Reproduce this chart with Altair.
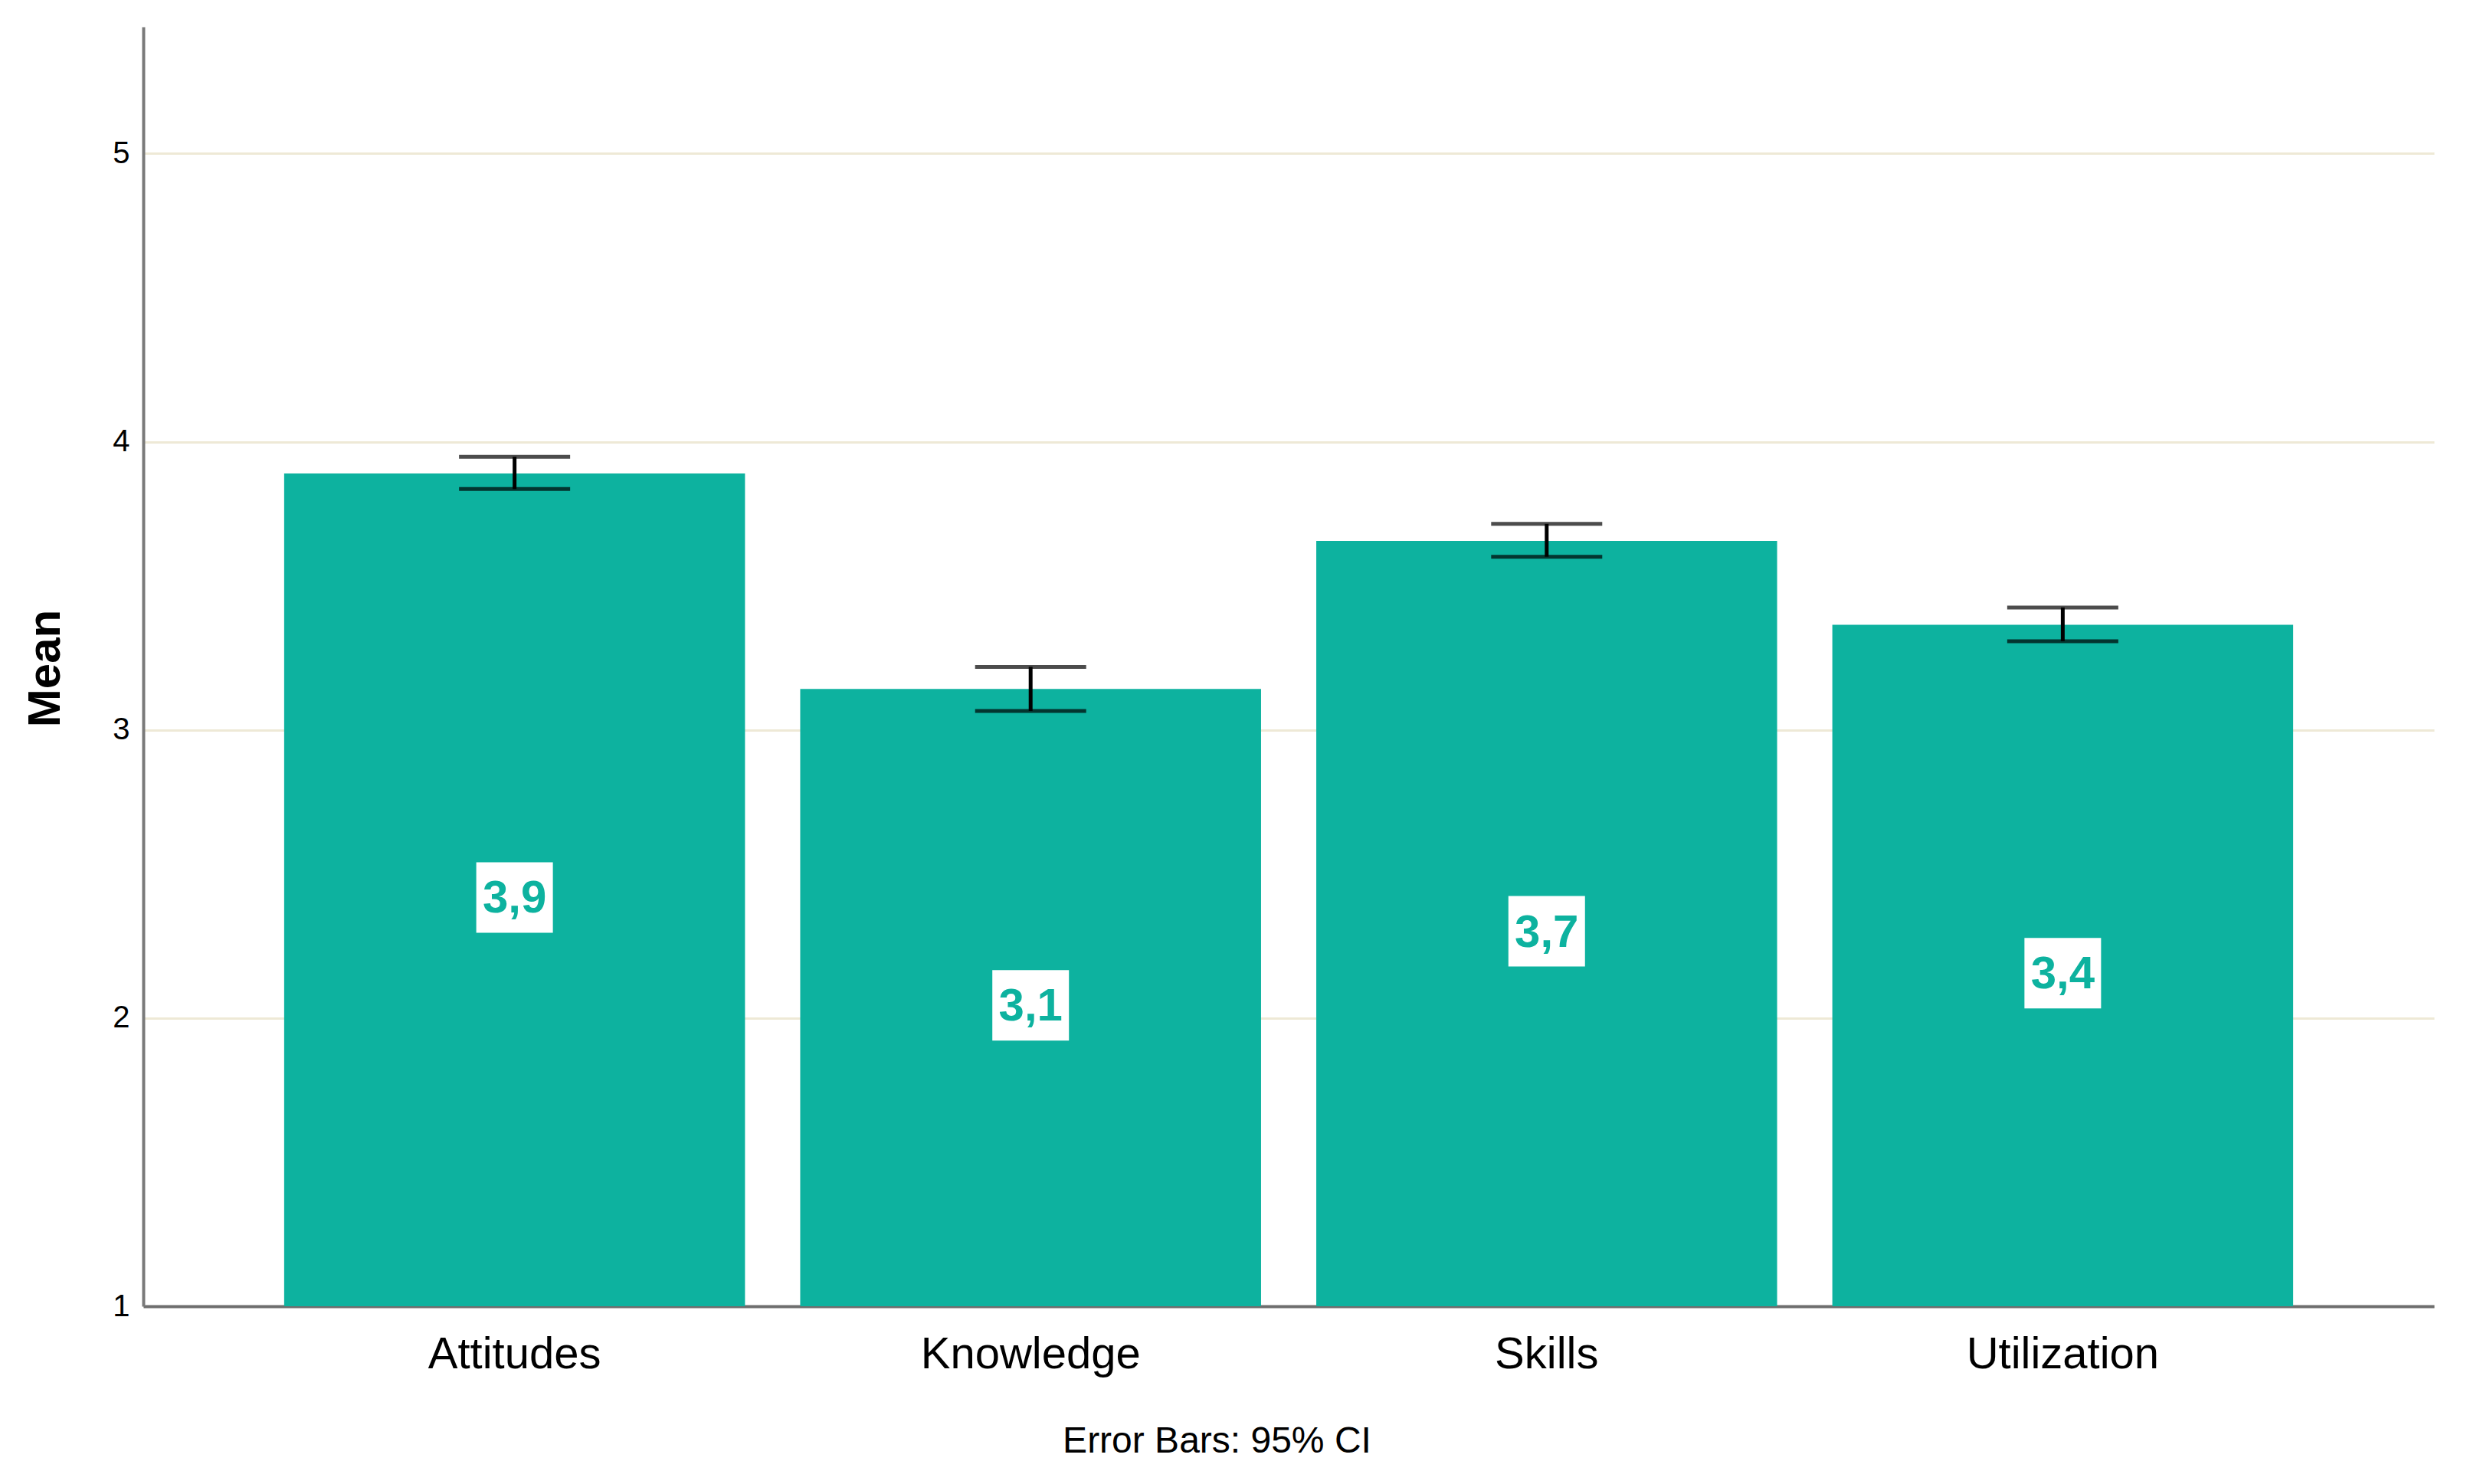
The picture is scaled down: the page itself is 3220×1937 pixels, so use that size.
import altair as alt
import pandas as pd

categories = ["Attitudes", "Knowledge", "Skills", "Utilization"]
means = [3.890, 3.142, 3.656, 3.365]
ci_low = [3.836, 3.066, 3.601, 3.308]
ci_high = [3.948, 3.219, 3.715, 3.425]
y_ticks = [1, 2, 3, 4, 5]

df = pd.DataFrame({"cat": categories, "mean": means, "lo": ci_low, "hi": ci_high})

TEAL = "#0DB29F"
FONT = "Liberation Sans"

x_enc = alt.X(
    "cat:N",
    sort=categories,
    scale=alt.Scale(paddingInner=0.107, paddingOuter=0.273),
    axis=alt.Axis(
        title="Error Bars: 95% CI",
        titleFont=FONT, titleFontSize=48, titleFontWeight="normal", titleColor="#000",
        titleX=1401, titleY=190, titleAlign="center", titleBaseline="alphabetic",
        labelFont=FONT, labelFontSize=58, labelColor="#000", labelAngle=0,
        labelPadding=80, labelBaseline="alphabetic", labelLimit=0,
        ticks=False, domainColor="#6E6E6E", domainWidth=4,
    ),
)

y_scale = alt.Scale(domain=[1, 5.44], zero=False, nice=False)

base = alt.Chart(df)

bars = base.mark_bar(color=TEAL).encode(
    x=x_enc,
    y=alt.Y(
        "mean:Q",
        scale=y_scale,
        axis=alt.Axis(
            title="Mean", values=y_ticks, format="d",
            titleFont=FONT, titleFontSize=60, titleFontWeight="bold", titleColor="#000",
            titleX=-128, titleY=837, titleAngle=270, titleAlign="center", titleBaseline="middle",
            labelFont=FONT, labelFontSize=40, labelColor="#000", labelPadding=18,
            ticks=False, domainColor="#7A7A7A", domainWidth=4,
            grid=True, gridColor="#EEE9D6", gridWidth=3,
        ),
    ),
    y2=alt.datum(1),
)

err = base.mark_rule(color="#000", strokeWidth=5).encode(
    x=alt.X("cat:N", sort=categories), y=alt.Y("lo:Q", scale=y_scale), y2="hi:Q"
)
cap_lo = base.mark_tick(color="#000", size=145, thickness=5).encode(
    x=alt.X("cat:N", sort=categories), y=alt.Y("lo:Q", scale=y_scale)
)
cap_hi = base.mark_tick(color="#000", size=145, thickness=5).encode(
    x=alt.X("cat:N", sort=categories), y=alt.Y("hi:Q", scale=y_scale)
)

lab_base = base.transform_calculate(
    mid="(1 + datum.mean) / 2",
    label="replace(format(datum.mean, '.1f'), '.', ',')",
)

box = lab_base.mark_point(
    shape="M-1,-0.92L1,-0.92L1,0.92L-1,0.92Z",
    size=10000, filled=True, color="white", opacity=1, strokeWidth=0, yOffset=10,
).encode(x=alt.X("cat:N", sort=categories), y=alt.Y("mid:Q", scale=y_scale))

txt = lab_base.mark_text(
    font=FONT, fontSize=60, fontWeight="bold", color=TEAL, baseline="middle", align="center", dy=12,
).encode(x=alt.X("cat:N", sort=categories), y=alt.Y("mid:Q", scale=y_scale), text="label:N")

chart = (
    alt.layer(bars, err, cap_lo, cap_hi, box, txt)
    .properties(
        width=2990, height=1670,
        autosize=alt.AutoSizeParams(type="none"),
        padding={"left": 179, "top": 27, "right": 35, "bottom": 224},
        background="white",
    )
    .configure_view(stroke=None)
)

chart.save("out.html", embed_options={"renderer": "svg", "actions": False})
